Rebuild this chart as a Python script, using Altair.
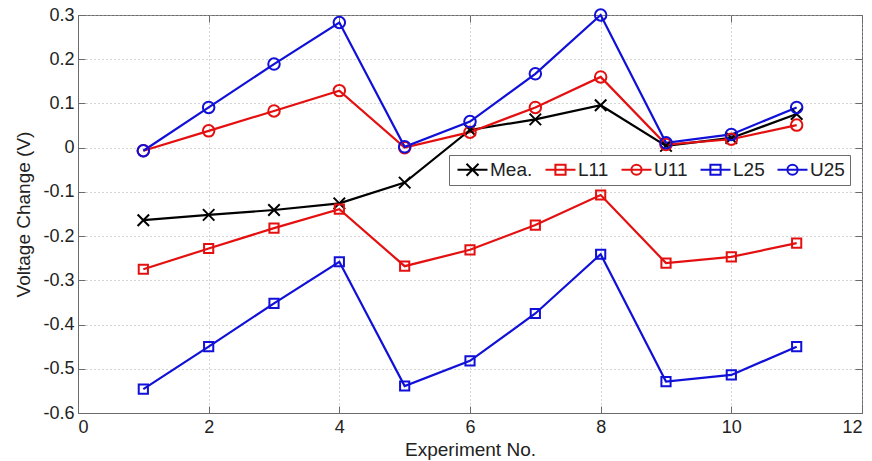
import altair as alt
import pandas as pd

# Experiment numbers and measured / bound voltage changes (V)
experiments = list(range(1, 12))
mea = [-0.164, -0.152, -0.141, -0.126, -0.079, 0.040, 0.064, 0.096, 0.004, 0.022, 0.076]
l11 = [-0.275, -0.228, -0.182, -0.139, -0.268, -0.231, -0.175, -0.107, -0.261, -0.247, -0.216]
u11 = [-0.007, 0.038, 0.083, 0.129, 0.000, 0.035, 0.091, 0.160, 0.007, 0.019, 0.051]
l25 = [-0.546, -0.450, -0.352, -0.258, -0.539, -0.482, -0.375, -0.241, -0.529, -0.514, -0.450]
u25 = [-0.007, 0.091, 0.189, 0.283, 0.002, 0.059, 0.167, 0.300, 0.011, 0.030, 0.091]

series_names = ["Mea.", "L11", "U11", "L25", "U25"]
series_values = [mea, l11, u11, l25, u25]
series_colors = ["#000000", "#e41010", "#e41010", "#1010d8", "#1010d8"]

x_ticks = [0, 2, 4, 6, 8, 10, 12]
y_ticks = [-0.6, -0.5, -0.4, -0.3, -0.2, -0.1, 0, 0.1, 0.2, 0.3]

# marker shapes: x-cross, square, circle
X_PATH = "M-1,-1L1,1M-1,1L1,-1"
SQ_PATH = "M-0.8,-0.8H0.8V0.8H-0.8Z"
marker_shapes = [X_PATH, SQ_PATH, "circle", SQ_PATH, "circle"]

# legend glyphs: a short line segment with the marker on it
LINE = "M-2.5,0H2.5"
legend_shapes = [
    LINE + "M-1,-1L1,1M-1,1L1,-1",
    LINE + "M-0.85,-0.85H0.85V0.85H-0.85Z",
    LINE + "M0.85,0A0.85,0.85,0,1,1,-0.85,0A0.85,0.85,0,1,1,0.85,0",
    LINE + "M-0.85,-0.85H0.85V0.85H-0.85Z",
    LINE + "M0.85,0A0.85,0.85,0,1,1,-0.85,0A0.85,0.85,0,1,1,0.85,0",
]

rows = []
for name, vals in zip(series_names, series_values):
    for e, v in zip(experiments, vals):
        rows.append({"exp": e, "value": v, "series": name, "key": name, "order": series_names.index(name)})
df = pd.DataFrame(rows)

W, H = 784, 398
FONT = "Liberation Sans"
GRAY = "#6b6b6b"

# plain hyphen minus and trimmed zeros: -0.1, 0, 0.1
Y_LABEL = "datum.value < 0 ? '-' + format(-datum.value, '.1~f') : format(datum.value, '.1~f')"

x_dom = alt.Scale(domain=[0, 12], nice=False, zero=False)
y_dom = alt.Scale(domain=[-0.6, 0.3], nice=False, zero=False)

color_scale = alt.Scale(domain=series_names, range=series_colors)

base = alt.Chart(df)

lines = base.mark_line(strokeWidth=2.2).encode(
    x=alt.X("exp:Q", scale=x_dom,
            axis=alt.Axis(values=x_ticks, title="Experiment No.", grid=True,
                          labelPadding=5, titlePadding=4)),
    y=alt.Y("value:Q", scale=y_dom,
            axis=alt.Axis(values=y_ticks, title="Voltage Change (V)", grid=True,
                          labelExpr=Y_LABEL, labelPadding=4, titlePadding=9)),
    color=alt.Color("series:N", scale=color_scale, legend=None),
    detail="order:O",
)

# inward tick marks on all four sides of the box
inner_x_bottom = alt.Axis(values=x_ticks, orient="top", offset=-H, labels=False, domain=False,
                          grid=False, ticks=True, tickSize=7, tickColor=GRAY, title=None)
inner_y_left = alt.Axis(values=y_ticks, orient="right", offset=-W, labels=False, domain=False,
                        grid=False, ticks=True, tickSize=7, tickColor=GRAY, title=None)
inner_x_top = alt.Axis(values=x_ticks, orient="bottom", offset=-H, labels=False, domain=False,
                       grid=False, ticks=True, tickSize=7, tickColor=GRAY, title=None)
inner_y_right = alt.Axis(values=y_ticks, orient="left", offset=-W, labels=False, domain=False,
                         grid=False, ticks=True, tickSize=7, tickColor=GRAY, title=None)

points = base.mark_point(filled=False, size=132, strokeWidth=2, opacity=1).encode(
    x=alt.X("exp:Q", scale=x_dom, axis=inner_x_bottom),
    y=alt.Y("value:Q", scale=y_dom, axis=inner_y_left),
    color=alt.Color("series:N", scale=color_scale, legend=None),
    shape=alt.Shape("series:N", scale=alt.Scale(domain=series_names, range=marker_shapes), legend=None),
)

leg = alt.Legend(
    title=None, orient="none", legendX=371, legendY=140, direction="horizontal",
    columns=5, symbolSize=144, symbolStrokeWidth=2, symbolOffset=9, symbolOpacity=1,
    labelOffset=8, labelFont=FONT, labelFontSize=19, labelColor="#222222",
    columnPadding=8, padding=5, strokeColor=GRAY, fillColor="white",
)

legend_layer = base.mark_point(filled=False).encode(
    x=alt.X("exp:Q", scale=x_dom, axis=inner_x_top),
    y=alt.Y("value:Q", scale=y_dom, axis=inner_y_right),
    color=alt.Color("key:N", scale=alt.Scale(domain=series_names, range=series_colors), legend=leg),
    shape=alt.Shape("key:N", scale=alt.Scale(domain=series_names, range=legend_shapes), legend=leg),
).transform_filter("false")

chart = alt.layer(lines, points, legend_layer).resolve_scale(
    color="independent", shape="independent"
).resolve_axis(
    x="independent", y="independent"
).properties(
    width=W, height=H,
    padding={"left": 78, "top": 15, "right": 10, "bottom": 48},
    autosize=alt.AutoSizeParams(type="none"),
    background="white",
).configure_view(
    stroke=GRAY, strokeWidth=1
).configure_axis(
    domainColor=GRAY, domainWidth=1, ticks=False,
    labelFont=FONT, labelFontSize=18, labelColor="#222222",
    titleFont=FONT, titleFontSize=19, titleFontWeight="normal", titleColor="#222222",
    gridColor="#a8a8a8", gridDash=[1, 3], gridWidth=1,
)

chart.save("out.html", embed_options={"renderer": "svg", "actions": False})
